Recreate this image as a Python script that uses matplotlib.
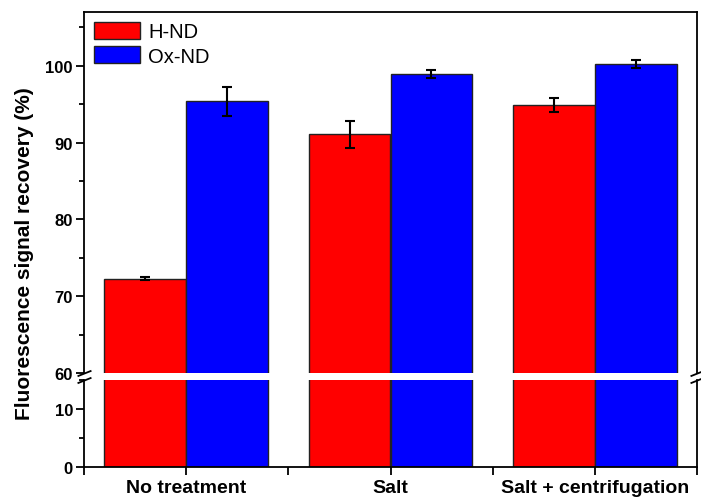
import matplotlib.pyplot as plt
import numpy as np
from matplotlib.ticker import MultipleLocator

plt.rcParams['font.family'] = ['Liberation Sans', 'DejaVu Sans']

groups = ["No treatment", "Salt", "Salt + centrifugation"]
h_nd = [72.3, 91.1, 94.9]
h_nd_err = [0.2, 1.75, 0.95]
ox_nd = [95.4, 98.9, 100.2]
ox_nd_err = [1.9, 0.55, 0.5]

x = np.arange(1, len(groups) + 1)
w = 0.4

fig = plt.figure(figsize=(7.01, 5.02), dpi=100)
left, right = 84 / 701, 697 / 701
ax_top = fig.add_axes([left, 1 - 374 / 502, right - left, 361 / 502])
ax_bot = fig.add_axes([left, 1 - 468 / 502, right - left, 87 / 502])

err_kw = dict(ecolor="black", elinewidth=1.5, capsize=3.8, capthick=1.5)
for ax in (ax_top, ax_bot):
    ax.bar(x - w / 2, h_nd, w, yerr=h_nd_err, color="#ff0000",
           edgecolor="#222222", linewidth=1, error_kw=err_kw, label="H-ND")
    ax.bar(x + w / 2, ox_nd, w, yerr=ox_nd_err, color="#0000ff",
           edgecolor="#222222", linewidth=1, error_kw=err_kw, label="Ox-ND")
    ax.set_xlim(0.5, 3.5)
    for s in ax.spines.values():
        s.set_linewidth(1.3)
    ax.yaxis.set_major_locator(MultipleLocator(10))
    ax.yaxis.set_minor_locator(MultipleLocator(5))
    ax.tick_params(axis="y", which="major", direction="out", length=6, width=1.3,
                   labelsize=12, pad=2)
    ax.tick_params(axis="y", which="minor", direction="out", length=3.5, width=1.3)

ax_top.set_ylim(60, 107)
ax_top.spines["bottom"].set_visible(False)
ax_top.set_xticks([])
for t in ax_top.get_yticklabels():
    t.set_fontweight("bold")

ax_bot.set_ylim(0, 15)
ax_bot.spines["top"].set_visible(False)
ax_bot.set_xticks(x)
ax_bot.set_xticklabels(groups, fontsize=14, fontweight="bold")
ax_bot.set_xticks([0.5, 1.5, 2.5, 3.5], minor=True)
ax_bot.tick_params(axis="x", which="major", direction="out", length=6, width=1.3, pad=3)
ax_bot.tick_params(axis="x", which="minor", direction="out", length=6, width=1.3)
for t in ax_bot.get_yticklabels():
    t.set_fontweight("bold")

# break marks on both vertical spines
mk = dict(marker=[(-1, -0.4), (1, 0.4)], markersize=10, linestyle="none",
          color="black", mec="black", mew=1.3, clip_on=False)
ax_top.plot([0, 1], [0, 0], transform=ax_top.transAxes, **mk)
ax_bot.plot([0, 1], [1, 1], transform=ax_bot.transAxes, **mk)

ax_top.legend(loc="upper left", frameon=False, fontsize=14.5, handlelength=2.3,
              handleheight=0.9, handletextpad=0.4, labelspacing=0.25,
              borderaxespad=0.3, borderpad=0.2)

fig.text(0.035, 0.494, "Fluorescence signal recovery (%)", rotation=90,
         ha="center", va="center", fontsize=15, fontweight="bold")

fig.savefig("out.png", dpi=100)
